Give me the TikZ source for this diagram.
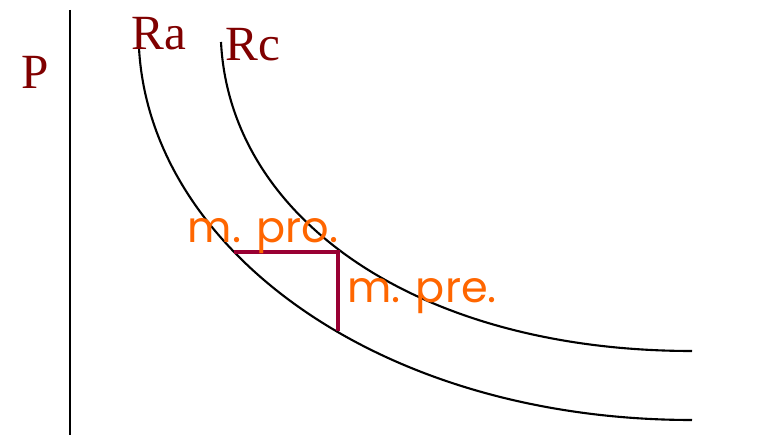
\documentclass[tikz,border=0pt]{standalone}
\usepackage{fontspec}
\setmainfont{Liberation Serif}
\newfontfamily\notefont{Poppins}
\usetikzlibrary{positioning}
\definecolor{axislabel}{HTML}{800000}
\definecolor{note}{HTML}{FF6600}
\definecolor{stepred}{HTML}{990033}

\begin{document}
\begin{tikzpicture}[
    x=0.02cm, y=-0.02cm,
    curve/.style={line width=1.2pt},
    axislbl/.style={text=axislabel, font=\fontsize{28}{30}\selectfont, inner sep=0pt},
    notelbl/.style={text=note, font=\notefont\fontsize{24.5}{28}\selectfont, inner sep=0pt},
    stepline/.style={draw=stepred, line width=2.7pt},
]
\useasboundingbox (0,0) rectangle (769,438);

% Axis
\coordinate (ax_top) at (70,10);
\coordinate (ax_bot) at (70,435);
\draw[curve] (ax_top) -- (ax_bot);
\node[axislbl] (p_lbl) at (35,72) {P};

% Curves
\coordinate (ra_start) at (139,48);
\coordinate (ra_end) at (692,420);
\coordinate (rc_start) at (221,42);
\coordinate (rc_end) at (692,351);
\draw[curve] (ra_start) .. controls (150,250) and (380,420) .. (ra_end);
\draw[curve] (rc_start) .. controls (230,220) and (420,351) .. (rc_end);
\node[axislbl] (ra_lbl) at (159,34) {Ra};
\node[axislbl] (rc_lbl) at (253,45) {Rc};

% Steps
\coordinate (pro_a) at (234,252);
\coordinate (corner) at (338,252);
\coordinate (pre_b) at (338,331);
\draw[stepline] (pro_a) -- (corner) -- (pre_b);
\node[notelbl] (pro_lbl) at (263,236) {m. pro.};
\node[notelbl] (pre_lbl) at (422,296) {m. pre.};
\end{tikzpicture}
\end{document}
